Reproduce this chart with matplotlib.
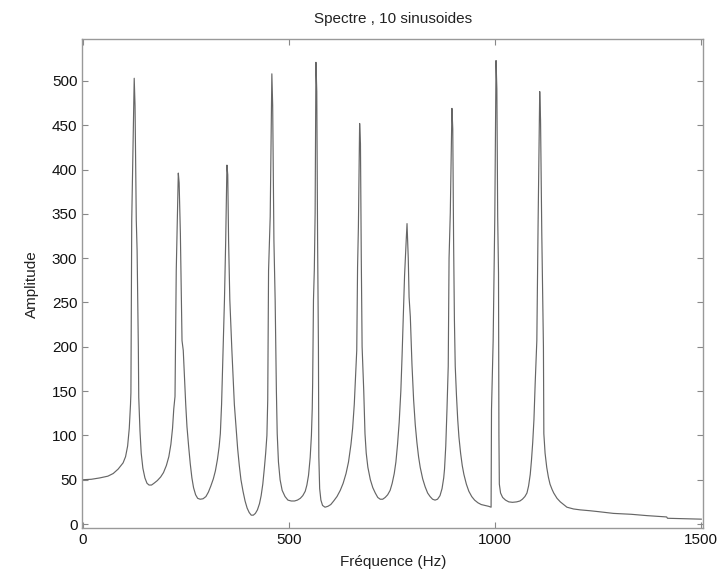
import matplotlib
matplotlib.use("Agg")
import matplotlib.pyplot as plt

# spectrum (Hz, amplitude)
freq_hz = [0, 20, 40, 60, 73, 85, 97, 103, 108, 112, 115, 116, 118, 124, 126, 129, 131, 134, 135, 138,
           141, 145, 150, 155, 160, 166, 172, 180, 188, 195, 202, 208, 213, 217, 220, 223, 226, 228, 231, 233,
           236, 240, 243, 246, 249, 252, 256, 260, 264, 268, 273, 278, 284, 291, 298, 304, 310, 316, 321, 326,
           330, 333, 336, 339, 343, 346, 349, 351, 353, 356, 361, 364, 367, 371, 375, 379, 383, 388, 393, 398,
           403, 408, 413, 418, 423, 428, 432, 436, 440, 443, 446, 448, 450, 454, 458, 460, 463, 466, 469, 471,
           474, 478, 483, 490, 497, 505, 513, 520, 527, 533, 539, 543, 547, 551, 554, 556, 557, 559, 561, 563,
           565, 567, 569, 571, 572, 574, 577, 581, 587, 594, 601, 608, 616, 624, 631, 638, 644, 650, 654, 658,
           661, 664, 666, 668, 671, 673, 675, 677, 681, 684, 687, 691, 697, 703, 709, 715, 721, 727, 733, 739,
           745, 750, 755, 759, 763, 767, 771, 774, 777, 780, 782, 784, 786, 789, 791, 794, 798, 802, 806, 810,
           814, 818, 824, 830, 836, 842, 848, 854, 860, 866, 871, 875, 877, 880, 883, 886, 888, 891, 895, 897,
           899, 901, 903, 906, 909, 912, 916, 920, 924, 930, 936, 943, 950, 958, 966, 975, 984, 990, 991, 995,
           997, 999, 1002, 1004, 1006, 1008, 1009, 1010, 1013, 1018, 1025, 1033, 1042, 1052, 1060, 1066, 1072, 1077, 1081, 1085,
           1088, 1091, 1094, 1097, 1101, 1104, 1108, 1110, 1113, 1115, 1117, 1118, 1121, 1125, 1129, 1133, 1138, 1142, 1150, 1158,
           1166, 1174, 1190, 1206, 1230, 1250, 1287, 1330, 1368, 1400, 1416, 1418, 1460, 1500]
amplitude = [50, 50.5, 52, 54, 57, 62, 69, 76, 88, 108, 135, 148, 343, 503, 472, 343, 309, 200, 143, 105,
             80, 63, 52, 46, 44, 44, 46, 49, 53, 58, 66, 76, 90, 108, 130, 144, 286, 328, 396, 385,
             328, 207, 196, 165, 135, 110, 88, 68, 52, 41, 33, 29, 28, 28.5, 31, 36, 43, 51, 60, 73,
             87, 102, 135, 185, 253, 320, 405, 394, 320, 253, 196, 165, 135, 110, 85, 66, 50, 37, 26, 18,
             13, 10, 10, 12, 16, 23, 32, 45, 64, 80, 100, 140, 286, 347, 508, 472, 320, 253, 150, 102,
             70, 50, 38, 31, 27, 26, 26, 27, 29, 32, 37, 44, 55, 75, 100, 130, 159, 253, 286, 351,
             521, 488, 320, 200, 76, 40, 27, 21, 19, 20, 22, 26, 31, 38, 46, 57, 70, 90, 108, 135,
             165, 196, 290, 335, 452, 429, 300, 200, 150, 102, 80, 64, 50, 41, 35, 30, 28, 28, 30, 33,
             38, 46, 57, 70, 90, 115, 150, 190, 234, 280, 301, 320, 339, 300, 256, 234, 180, 140, 112, 92,
             76, 64, 51, 42, 35, 31, 28, 27, 28, 32, 40, 52, 62, 88, 130, 178, 300, 351, 469, 446,
             320, 230, 178, 145, 118, 98, 80, 66, 56, 45, 37, 31, 27, 24, 22, 21, 20, 19, 129, 207,
             275, 347, 523, 491, 347, 283, 100, 45, 35, 30, 27, 25, 24.5, 25, 26, 28, 31, 35, 43, 56,
             72, 92, 118, 159, 207, 337, 488, 456, 328, 264, 200, 102, 80, 64, 53, 45, 39, 35, 29, 25,
             22, 19, 17, 16, 15, 14, 12, 11, 9.5, 8.5, 8, 6.5, 6, 5.5]
assert len(freq_hz) == len(amplitude), (len(freq_hz), len(amplitude))

x_ticks = [0, 500, 1000, 1500]
y_ticks = list(range(0, 501, 50))

plt.rcParams['font.family'] = ['Liberation Sans', 'DejaVu Sans']

fig = plt.figure(figsize=(7.25, 5.75), dpi=100)
ax = fig.add_axes([0.1135, 0.0817, 0.8566, 0.85])
ax.plot(freq_hz, amplitude, color='#666666', lw=0.85)

ax.set_xlim(-2, 1505)
ax.set_ylim(-4.5, 547)
ax.set_xticks(x_ticks)
ax.set_yticks(y_ticks)
ax.tick_params(direction='in', top=True, right=True, length=4, width=0.8,
               color='#888888', labelsize=11, labelcolor='#111111')
for s in ax.spines.values():
    s.set_color('#999999')
    s.set_linewidth(1.0)

ax.set_title("Spectre , 10 sinusoides", fontsize=11, pad=12, color='#222222')
ax.set_xlabel("Fréquence (Hz)", fontsize=11, labelpad=6, color='#222222')
ax.set_ylabel("Amplitude", fontsize=11, labelpad=9, color='#222222')

fig.savefig("out.png", dpi=100)
